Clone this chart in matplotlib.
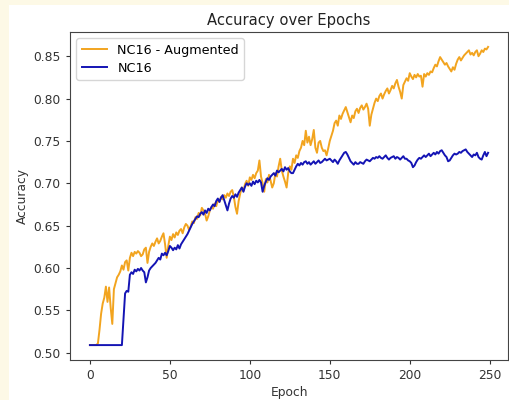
import matplotlib
matplotlib.use("Agg")
import matplotlib.pyplot as plt
from matplotlib.patches import Rectangle

epochs = list(range(250))

nc16_augmented = [
    0.509, 0.509, 0.509, 0.509, 0.509, 0.511, 0.527, 0.546, 0.558, 0.565,
    0.578, 0.560, 0.577, 0.553, 0.534, 0.575, 0.582, 0.589, 0.592, 0.596,
    0.603, 0.598, 0.607, 0.609, 0.597, 0.612, 0.618, 0.614, 0.619, 0.617,
    0.620, 0.618, 0.614, 0.616, 0.622, 0.624, 0.606, 0.619, 0.625, 0.629,
    0.626, 0.631, 0.635, 0.629, 0.632, 0.637, 0.641, 0.628, 0.612, 0.626,
    0.637, 0.633, 0.640, 0.636, 0.642, 0.639, 0.644, 0.646, 0.641, 0.648,
    0.652, 0.650, 0.645, 0.649, 0.655, 0.653, 0.660, 0.658, 0.665, 0.662,
    0.671, 0.668, 0.664, 0.656, 0.661, 0.668, 0.672, 0.670, 0.676, 0.673,
    0.680, 0.678, 0.684, 0.681, 0.686, 0.683, 0.688, 0.685, 0.690, 0.692,
    0.684, 0.672, 0.664, 0.679, 0.688, 0.695, 0.691, 0.699, 0.703, 0.697,
    0.707, 0.704, 0.710, 0.706, 0.712, 0.715, 0.727, 0.708, 0.700, 0.690,
    0.705, 0.701, 0.710, 0.703, 0.695, 0.700, 0.712, 0.708, 0.720, 0.729,
    0.715, 0.708, 0.702, 0.695, 0.712, 0.720, 0.716, 0.729, 0.724, 0.733,
    0.730, 0.738, 0.742, 0.750, 0.745, 0.762, 0.748, 0.755, 0.745, 0.752,
    0.763, 0.742, 0.736, 0.748, 0.750, 0.742, 0.738, 0.739, 0.733, 0.741,
    0.750, 0.756, 0.762, 0.771, 0.774, 0.768, 0.780, 0.776, 0.782, 0.786,
    0.790, 0.784, 0.778, 0.772, 0.780, 0.777, 0.785, 0.788, 0.783, 0.789,
    0.792, 0.787, 0.790, 0.794, 0.788, 0.768, 0.781, 0.788, 0.795, 0.800,
    0.797, 0.803, 0.806, 0.800, 0.805, 0.809, 0.812, 0.806, 0.810, 0.815,
    0.812, 0.818, 0.822, 0.814, 0.808, 0.800, 0.816, 0.820, 0.824, 0.821,
    0.830, 0.826, 0.823, 0.828, 0.825, 0.829, 0.826, 0.827, 0.814, 0.829,
    0.826, 0.830, 0.828, 0.832, 0.831, 0.836, 0.840, 0.838, 0.844, 0.849,
    0.846, 0.843, 0.840, 0.842, 0.838, 0.835, 0.832, 0.837, 0.834, 0.841,
    0.846, 0.849, 0.845, 0.848, 0.851, 0.853, 0.855, 0.857, 0.852, 0.854,
    0.851, 0.855, 0.857, 0.850, 0.853, 0.857, 0.855, 0.859, 0.858, 0.861,
]

nc16 = [
    0.509, 0.509, 0.509, 0.509, 0.509, 0.509, 0.509, 0.509, 0.509, 0.509,
    0.509, 0.509, 0.509, 0.509, 0.509, 0.509, 0.509, 0.509, 0.509, 0.509,
    0.509, 0.540, 0.570, 0.573, 0.572, 0.592, 0.595, 0.593, 0.598, 0.596,
    0.599, 0.597, 0.600, 0.597, 0.595, 0.583, 0.589, 0.597, 0.600, 0.602,
    0.604, 0.606, 0.609, 0.612, 0.610, 0.617, 0.615, 0.618, 0.615, 0.620,
    0.626, 0.624, 0.621, 0.624, 0.622, 0.627, 0.623, 0.628, 0.631, 0.634,
    0.637, 0.640, 0.644, 0.648, 0.652, 0.655, 0.658, 0.661, 0.660, 0.664,
    0.666, 0.663, 0.668, 0.665, 0.670, 0.668, 0.672, 0.675, 0.673, 0.679,
    0.682, 0.678, 0.683, 0.686, 0.680, 0.674, 0.668, 0.676, 0.682, 0.685,
    0.683, 0.687, 0.684, 0.689, 0.692, 0.695, 0.690, 0.696, 0.700, 0.698,
    0.700, 0.697, 0.702, 0.699, 0.703, 0.701, 0.704, 0.701, 0.690, 0.697,
    0.702, 0.706, 0.704, 0.708, 0.710, 0.712, 0.709, 0.715, 0.713, 0.715,
    0.717, 0.714, 0.719, 0.716, 0.718, 0.714, 0.712, 0.712, 0.716, 0.720,
    0.723, 0.721, 0.724, 0.722, 0.725, 0.726, 0.723, 0.725, 0.722, 0.724,
    0.726, 0.723, 0.725, 0.727, 0.724, 0.725, 0.727, 0.729, 0.727, 0.728,
    0.729, 0.727, 0.725, 0.728, 0.726, 0.723, 0.727, 0.730, 0.733, 0.736,
    0.737, 0.734, 0.730, 0.726, 0.724, 0.722, 0.725, 0.723, 0.723, 0.725,
    0.724, 0.723, 0.726, 0.728, 0.727, 0.726, 0.728, 0.730, 0.729, 0.731,
    0.730, 0.732, 0.730, 0.729, 0.731, 0.733, 0.730, 0.728, 0.730, 0.731,
    0.732, 0.729, 0.731, 0.730, 0.728, 0.730, 0.732, 0.729, 0.729, 0.727,
    0.726, 0.724, 0.719, 0.721, 0.725, 0.728, 0.730, 0.729, 0.731, 0.733,
    0.731, 0.733, 0.735, 0.732, 0.734, 0.736, 0.734, 0.737, 0.735, 0.738,
    0.739, 0.736, 0.733, 0.731, 0.726, 0.727, 0.730, 0.733, 0.735, 0.734,
    0.735, 0.737, 0.736, 0.738, 0.739, 0.740, 0.737, 0.735, 0.733, 0.731,
    0.734, 0.733, 0.736, 0.731, 0.729, 0.728, 0.733, 0.737, 0.732, 0.736,
]

series_labels = ["NC16 - Augmented", "NC16"]
title = "Accuracy over Epochs"
xlabel = "Epoch"
ylabel = "Accuracy"

W, H = 509, 400
fig = plt.figure(figsize=(W / 100, H / 100), dpi=100, facecolor="#fdf9e6")
# white inner canvas (screenshot of the figure on a cream page)
fig.patches.append(Rectangle((9 / W, 0), 1 - 9 / W, (H - 5) / H,
                             transform=fig.transFigure, facecolor="white",
                             edgecolor="none", zorder=-10))

ax = fig.add_axes([70 / W, 40 / H, (508 - 70) / W, (360 - 32) / H])
ax.set_zorder(1)
ax.set_facecolor("white")

fs = 8.8
ax.plot(epochs, nc16_augmented, color="#f2a41f", lw=1.4, label=series_labels[0])
ax.plot(epochs, nc16, color="#1414b4", lw=1.4, label=series_labels[1])

ax.set_title(title, fontsize=10.6, color="#222222", pad=5)
ax.set_xlabel(xlabel, fontsize=fs, color="#333333", labelpad=3)
ax.set_ylabel(ylabel, fontsize=fs, color="#333333", labelpad=3)
ax.set_xticks([0, 50, 100, 150, 200, 250])
ax.set_yticks([0.50, 0.55, 0.60, 0.65, 0.70, 0.75, 0.80, 0.85])
ax.tick_params(labelsize=fs, length=3.1, width=0.8, colors="#333333")
for s in ax.spines.values():
    s.set_color("#444444")
    s.set_linewidth(0.8)

ax.legend(loc="upper left", fontsize=9.2, frameon=True, handlelength=2.0,
          borderpad=0.4, labelspacing=0.4, handletextpad=0.8)

fig.savefig("out.png", dpi=100, facecolor=fig.get_facecolor())
